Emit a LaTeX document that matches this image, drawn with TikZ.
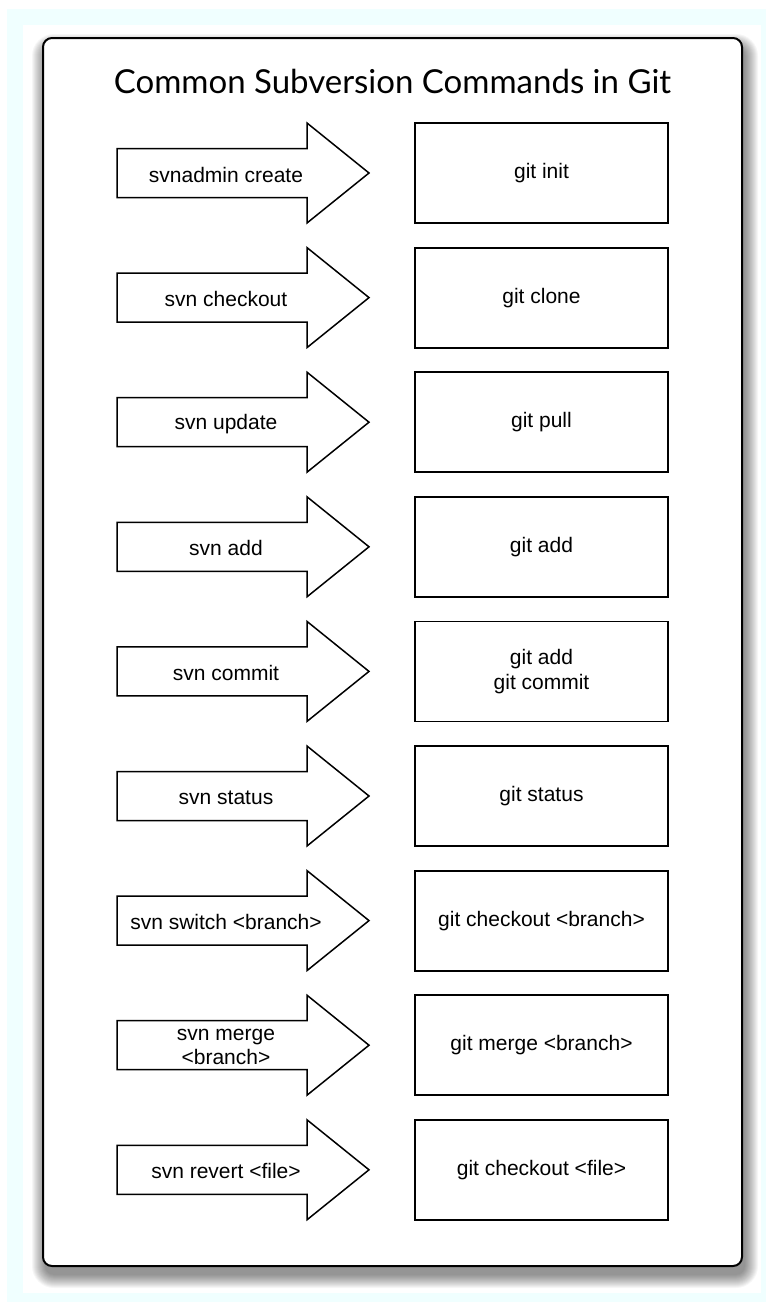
\documentclass[tikz,border=0pt]{standalone}
\usepackage{fontspec}
\setmainfont{Liberation Sans}
\newfontfamily\titlefont{Lato}
\definecolor{bandcyan}{RGB}{240,255,255}
\begin{document}
\begin{tikzpicture}[x=1pt,y=-1pt,
  frame/.style={draw=black, line width=2pt, fill=white, rounded corners=9pt},
  gitbox/.style={draw=black, line width=1.8pt, fill=white, minimum width=253pt, minimum height=100pt, inner sep=0pt, align=center, font=\fontsize{21}{25}\selectfont},
  svnarrow/.style={draw=black, line width=1.5pt, fill=white, line join=miter},
  cmdlabel/.style={font=\fontsize{21}{24}\selectfont, align=center, inner sep=0pt},
  titletext/.style={font=\titlefont\fontsize{33}{38}\selectfont, inner sep=0pt}]
\useasboundingbox (0,0) rectangle (766,1302);
\fill[white] (0,0) rectangle (766,1302);
\fill[bandcyan] (7,9) rectangle (766,1302);
\fill[white] (23,25) rectangle (761,1293);
% shadow
\foreach \r in {0,...,13}{
  \fill[black, opacity=0.035, rounded corners=9pt+\r pt] (45-\r,47-\r) rectangle (745+\r,1275+\r);
}
\draw[frame] (43,38) rectangle (742,1266);
\node[titletext] (title) at (392.5,81) {Common Subversion Commands in Git};
\foreach \i/\s/\g in {1/{svnadmin create}/{git init},
                      2/{svn checkout}/{git clone},
                      3/{svn update}/{git pull},
                      4/{svn add}/{git add},
                      5/{svn commit}/{git add\\git commit},
                      6/{svn status}/{git status},
                      7/{svn switch <branch>}/{git checkout <branch>},
                      8/{svn merge\\<branch>}/{git merge <branch>},
                      9/{svn revert <file>}/{git checkout <file>}}{
  \pgfmathsetmacro\yc{173+124.6*(\i-1)}
  \draw[svnarrow] (117,\yc-24.5) -- (307,\yc-24.5) -- (307,\yc-50) -- (369,\yc)
     -- (307,\yc+50) -- (307,\yc+24.5) -- (117,\yc+24.5) -- cycle;
  \node[cmdlabel, yshift=-1.5pt] (s\i) at (226,\yc) {\s};
  \node[gitbox] (g\i) at (541.5,\yc) {\g};
}
\end{tikzpicture}
\end{document}
